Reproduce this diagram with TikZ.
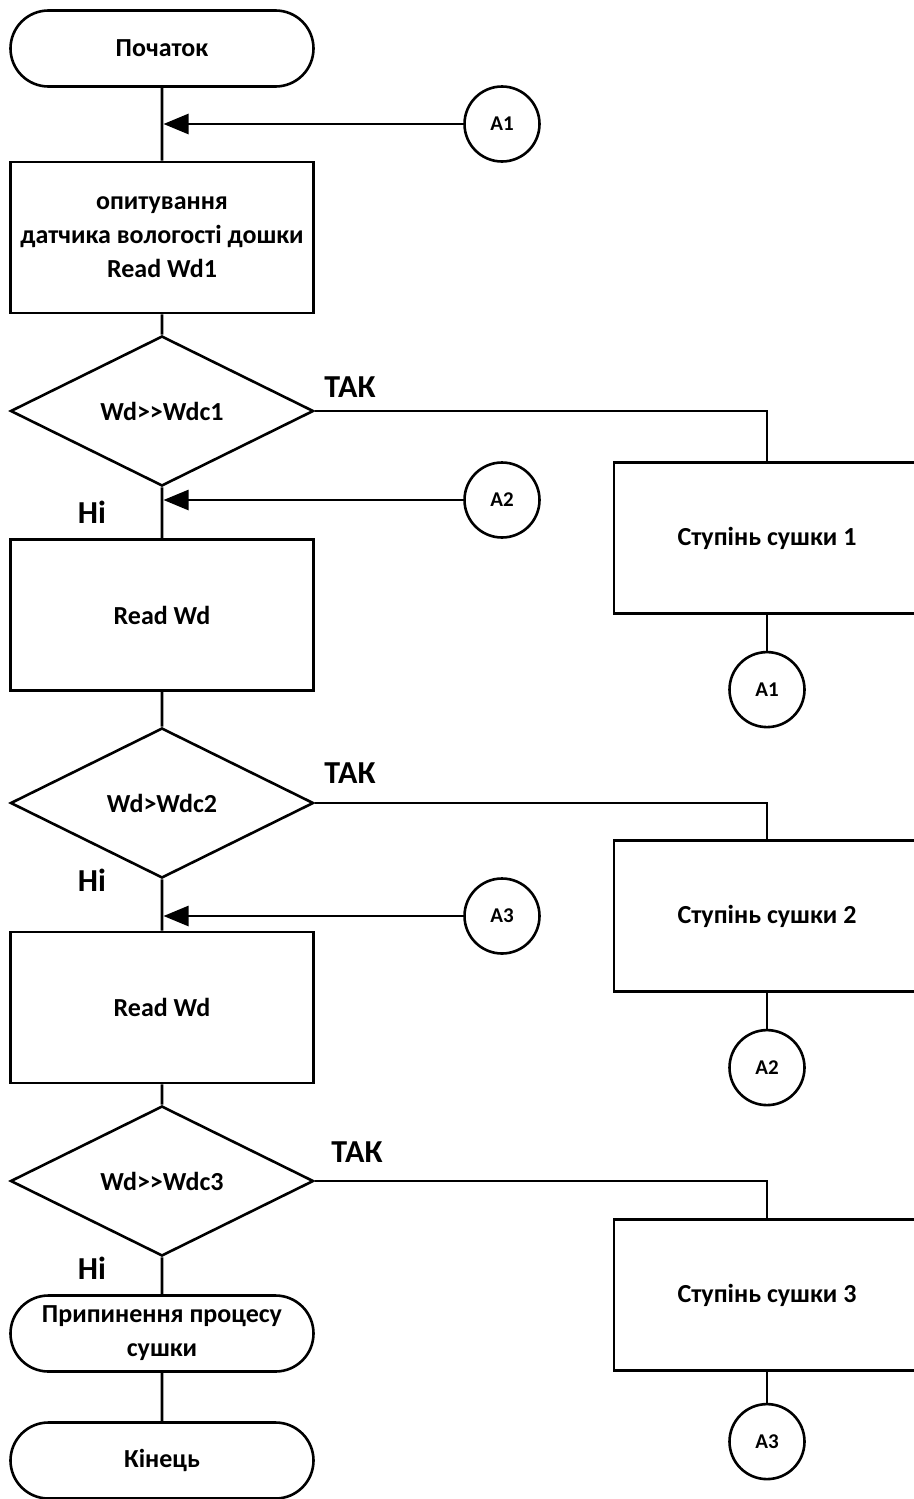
\documentclass[tikz,border=0pt]{standalone}
\usepackage{fontspec}
\setmainfont{Carlito}
\usetikzlibrary{positioning,arrows.meta,shapes.geometric,shapes.misc}

\begin{document}
\begin{tikzpicture}[x=1pt,y=-1pt,>={Triangle[length=25pt,width=20pt]},
		line width=2.6pt,
		font=\bfseries\fontsize{26}{34}\selectfont,
		term/.style={draw,rounded rectangle,minimum width=303pt,minimum height=76pt,inner sep=0pt,align=center},
		proc/.style={draw,rectangle,minimum width=303pt,minimum height=151pt,inner sep=0pt,align=center},
		stage/.style={draw,rectangle,minimum width=306pt,minimum height=151pt,inner sep=0pt,align=center},
		cond/.style={draw,diamond,minimum width=303pt,minimum height=150pt,inner sep=0pt},
		conn/.style={draw,circle,minimum size=75pt,inner sep=0pt,font=\bfseries\fontsize{21}{24}\selectfont},
		lbl/.style={font=\bfseries\fontsize{32}{34}\selectfont},
	]
		\useasboundingbox (0,0) rectangle (913,1499);

		% main column
		\node[term] (start) at (162,48.5) {Початок};
		\node[proc] (read1) at (162,237.5) {опитування\\датчика вологості дошки\\Read Wd1};
		\node[cond] (dec1) at (162,411) {Wd{>}{>}Wdc1};
		\node[proc] (read2) at (162,615) {Read Wd};
		\node[cond] (dec2) at (162,803) {Wd{>}Wdc2};
		\node[proc] (read3) at (162,1007.5) {Read Wd};
		\node[cond] (dec3) at (162,1181) {Wd{>}{>}Wdc3};
		\node[term] (stop) at (162,1333.5) {Припинення процесу\\сушки};
		\node[term] (end) at (162,1460.5) {Кінець};

		% drying stages
		\node[stage] (stage1) at (767,538) {Ступінь сушки 1};
		\node[stage] (stage2) at (767,916) {Ступінь сушки 2};
		\node[stage] (stage3) at (767,1295) {Ступінь сушки 3};

		% connectors
		\node[conn] (a1in) at (502,124) {A1};
		\node[conn] (a2in) at (502,500) {A2};
		\node[conn] (a3in) at (502,916) {A3};
		\node[conn, below=36pt of stage1] (a1out) {A1};
		\node[conn, below=36pt of stage2] (a2out) {A2};
		\node[conn, below=31pt of stage3] (a3out) {A3};

		\coordinate (j1) at (162,124);
		\coordinate (j2) at (162,500);
		\coordinate (j3) at (162,916);

		\node[lbl] (yes1) at (350,387) {ТАК};
		\node[lbl] (yes2) at (350,773) {ТАК};
		\node[lbl] (yes3) at (357,1152) {ТАК};
		\node[lbl] (no1) at (92,512) {Ні};
		\node[lbl] (no2) at (92,880) {Ні};
		\node[lbl] (no3) at (92,1268) {Ні};

		\draw (start) -- (read1) -- (dec1) -- (read2) -- (dec2) -- (read3) -- (dec3) -- (stop) -- (end);
		\draw (dec1.east) -| (stage1);
		\draw (dec2.east) -| (stage2);
		\draw (dec3.east) -| (stage3);
		\draw (stage1) -- (a1out);
		\draw (stage2) -- (a2out);
		\draw (stage3) -- (a3out);
		\draw[->,shorten >=1.5pt] (a1in) -- (j1);
		\draw[->,shorten >=1.5pt] (a2in) -- (j2);
		\draw[->,shorten >=1.5pt] (a3in) -- (j3);
	\end{tikzpicture}
\end{document}
